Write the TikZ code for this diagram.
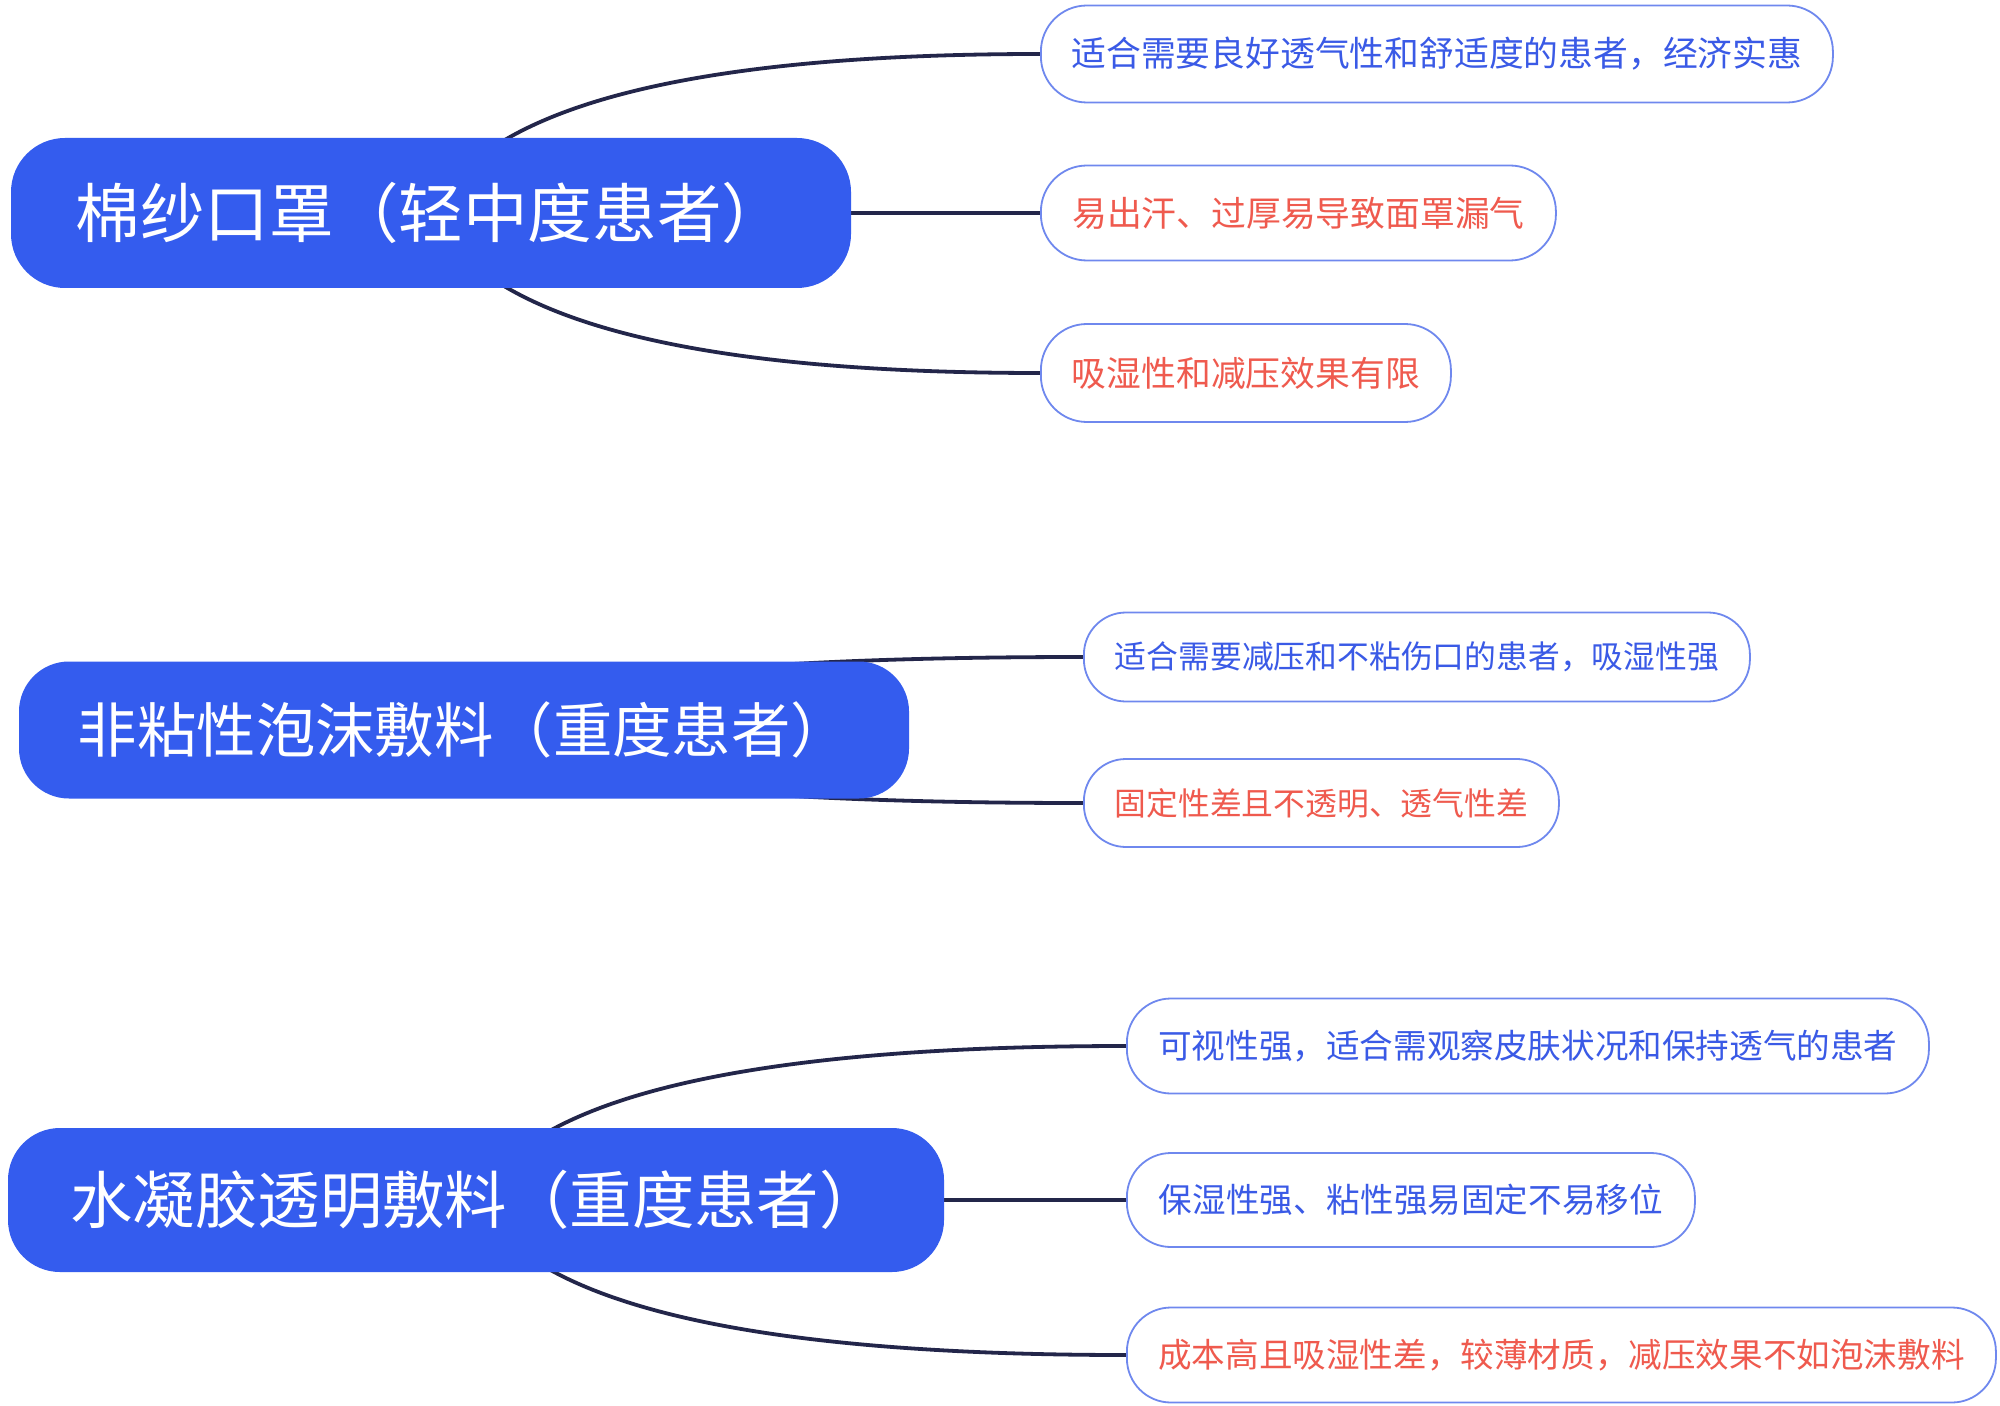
\documentclass[tikz,border=0pt]{standalone}
\usepackage{fontspec}
\setmainfont{Noto Sans CJK SC}
\usetikzlibrary{backgrounds,calc}
\definecolor{mainblue}{HTML}{345CEE}
\definecolor{txtblue}{HTML}{3A5AE6}
\definecolor{txtred}{HTML}{EF5A4E}
\definecolor{boxline}{HTML}{6F88EE}
\definecolor{wire}{HTML}{23264A}
\tikzset{
  topic/.style={fill=mainblue, text=white, rounded corners=27pt, inner sep=0pt, align=center},
  leaf/.style={draw=boxline, line width=0.9pt, fill=white, rounded corners=23pt, inner sep=0pt, anchor=west, align=center},
  good/.style={leaf, text=txtblue},
  bad/.style={leaf, text=txtred},
  conn/.style={draw=wire, line width=1.9pt},
  branch/.style={to path={
    let \p1=(\tikztostart), \p2=(\tikztotarget) in
    .. controls ({\x1+26.67pt}, {\y1+2/3*(\y2-\y1)}) and ({\x2+2/3*(\x1+40pt-\x2)}, \y2) .. (\tikztotarget)}}
}
\newcommand{\fa}{\fontsize{32.3pt}{38pt}\selectfont}
\newcommand{\fb}{\fontsize{17.4pt}{21pt}\selectfont}
\newcommand{\fc}{\fontsize{29.7pt}{35pt}\selectfont}
\newcommand{\fd}{\fontsize{15.9pt}{19pt}\selectfont}
\newcommand{\fe}{\fontsize{31.2pt}{37pt}\selectfont}
\newcommand{\ff}{\fontsize{16.8pt}{20pt}\selectfont}
\begin{document}
\begin{tikzpicture}[x=0.5pt,y=-0.5pt]
\useasboundingbox (0,0) rectangle (2000,1406);
% group 1
\node[topic, minimum width=420pt, minimum height=75pt] (n1) at (431,213) {\fa 棉纱口罩（轻中度患者）};
\node[good, minimum width=396pt, minimum height=48.5pt] (b1) at (1040,54) {\fb 适合需要良好透气性和舒适度的患者，经济实惠};
\node[bad, minimum width=257.5pt, minimum height=47.5pt] (b2) at (1040,213) {\fb 易出汗、过厚易导致面罩漏气};
\node[bad, minimum width=205pt, minimum height=49pt] (b3) at (1040,373) {\fb 吸湿性和减压效果有限};
% group 2
\node[topic, minimum width=445pt, minimum height=68.5pt, rounded corners=25pt] (n2) at (464,730) {\fc 非粘性泡沫敷料（重度患者）};
\node[good, minimum width=333pt, minimum height=44.5pt, rounded corners=21pt] (b4) at (1083,657) {\fd 适合需要减压和不粘伤口的患者，吸湿性强};
\node[bad, minimum width=237.5pt, minimum height=44pt, rounded corners=21pt] (b5) at (1083,803) {\fd 固定性差且不透明、透气性差};
% group 3
\node[topic, minimum width=468pt, minimum height=72pt, rounded corners=26pt] (n3) at (476,1200) {\fe 水凝胶透明敷料（重度患者）};
\node[good, minimum width=401pt, minimum height=47.5pt, rounded corners=22pt] (b6) at (1126,1046) {\ff 可视性强，适合需观察皮肤状况和保持透气的患者};
\node[good, minimum width=284pt, minimum height=47pt, rounded corners=22pt] (b7) at (1126,1200) {\ff 保湿性强、粘性强易固定不易移位};
\node[bad, minimum width=434.5pt, minimum height=47.5pt, rounded corners=22pt] (b8) at (1126,1355) {\ff 成本高且吸湿性差，较薄材质，减压效果不如泡沫敷料};
\begin{scope}[on background layer]
\fill[white] (0,0) rectangle (2000,1406);
\draw[conn] (n1.center) to[branch] (b1.west);
\draw[conn] (n1.center) to[branch] (b2.west);
\draw[conn] (n1.center) to[branch] (b3.west);
\draw[conn] (n2.center) to[branch] (b4.west);
\draw[conn] (n2.center) to[branch] (b5.west);
\draw[conn] (n3.center) to[branch] (b6.west);
\draw[conn] (n3.center) to[branch] (b7.west);
\draw[conn] (n3.center) to[branch] (b8.west);
\end{scope}
\end{tikzpicture}
\end{document}
